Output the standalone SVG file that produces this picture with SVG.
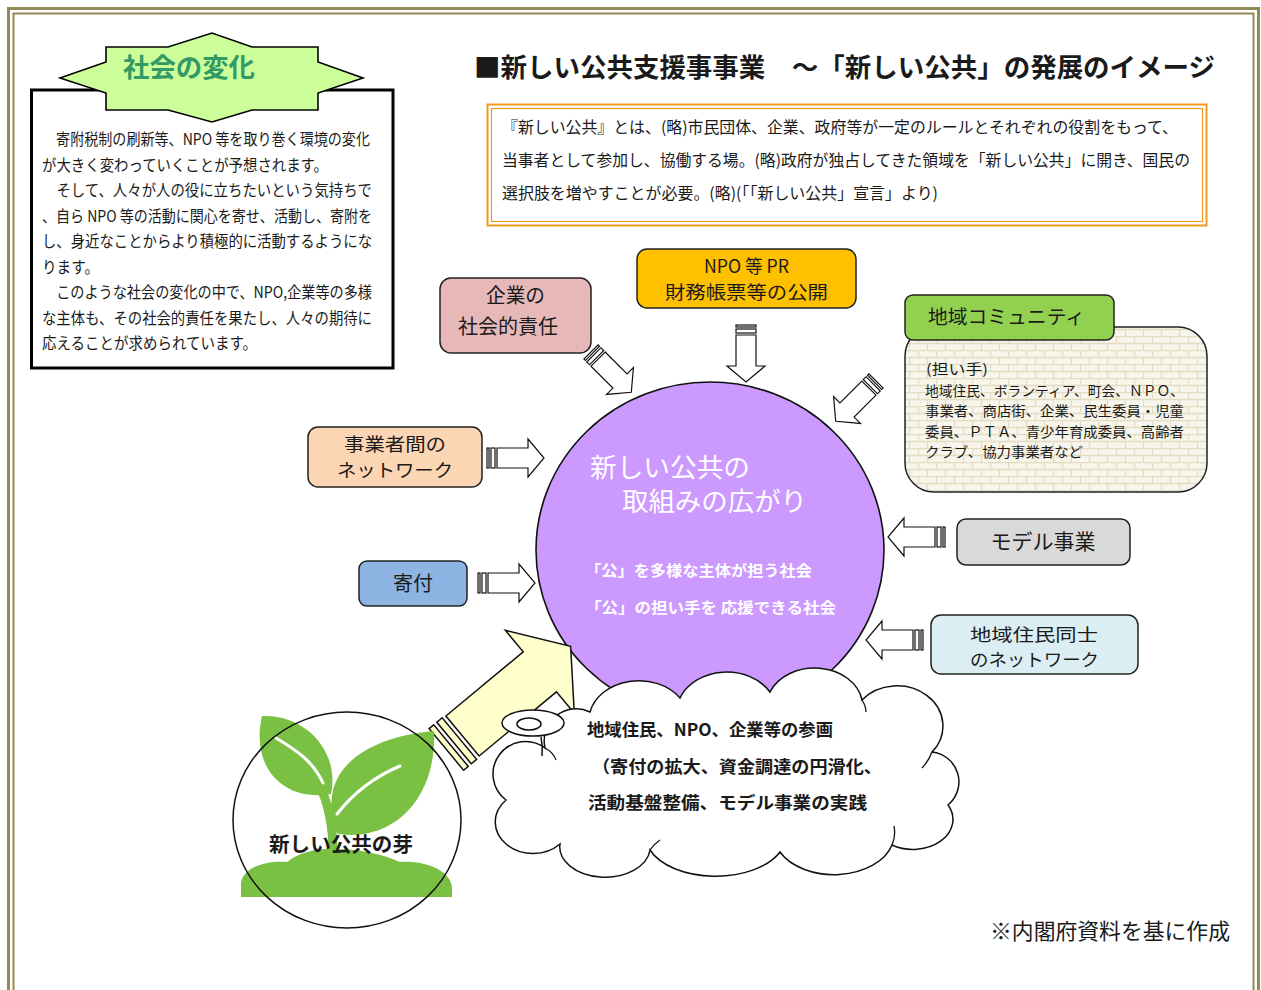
<svg xmlns="http://www.w3.org/2000/svg" xmlns:xlink="http://www.w3.org/1999/xlink" width="1261" height="990" viewBox="0 0 1261 990">
  <style>
    .jp { font-family: 'Noto Sans CJK JP', 'Noto Sans CJK SC', sans-serif; fill: #1a1a1a; }
    .b { font-weight: bold; }
    .box { stroke: #222; stroke-width: 1.5; }
    .arr { fill: #fff; stroke: #111; stroke-width: 1.2; stroke-linejoin: miter; }
    .leaf { fill: #7ac143; }
  </style>
  <defs>
    <!-- striped block arrow, pointing +x, origin at tail centre -->
    <g id="sarrow" class="arr">
      <rect x="0" y="-10" width="2" height="20"/>
      <rect x="4" y="-10" width="4" height="20"/>
      <path d="M10,-10 H41 V-19 L57,0 L41,19 V10 H10 Z"/>
    </g>
    <pattern id="brick" width="18" height="14" patternUnits="userSpaceOnUse">
      <rect width="18" height="14" fill="#f8f6ec"/>
      <path d="M0,0.5H18M0,7.5H18M0.5,0V7M9.5,7V14" stroke="#e2dcc3" stroke-width="1.3" fill="none"/>
    </pattern>
  </defs>

  <rect width="1261" height="990" fill="#fff"/>

  <!-- page frame -->
  <g id="frame" fill="none" stroke="#948a54">
    <path d="M8.5,990 V8.5 H1258.5 V990" stroke-width="3"/>
    <path d="M13.5,990 V13.5 H1253.5 V990" stroke-width="2"/>
  </g>

  <!-- social change panel -->
  <g id="change">
    <rect x="31.5" y="90" width="361.5" height="278" fill="#fff" stroke="#000" stroke-width="3"/>
    <polygon points="60,78 106,62 106,47 168,47 212,33 252,47 318,47 318,62 363,78 318,93 318,110 252,110 212,122 168,110 106,110 106,93" fill="#ccff99" stroke="#000" stroke-width="1.6"/>
    <text x="123" y="77" class="jp b" font-size="26" style="fill:#339966" textLength="132" lengthAdjust="spacingAndGlyphs">社会の変化</text>
    <text class="jp" font-size="16">
      <tspan x="42" y="145" textLength="328" lengthAdjust="spacingAndGlyphs">　寄附税制の刷新等、NPO 等を取り巻く環境の変化</tspan>
      <tspan x="42" y="170.5" textLength="286" lengthAdjust="spacingAndGlyphs">が大きく変わっていくことが予想されます。</tspan>
      <tspan x="42" y="196" textLength="330" lengthAdjust="spacingAndGlyphs">　そして、人々が人の役に立ちたいという気持ちで</tspan>
      <tspan x="42" y="221.5" textLength="330" lengthAdjust="spacingAndGlyphs">、自ら NPO 等の活動に関心を寄せ、活動し、寄附を</tspan>
      <tspan x="42" y="247" textLength="330" lengthAdjust="spacingAndGlyphs">し、身近なことからより積極的に活動するようにな</tspan>
      <tspan x="42" y="272.5" textLength="57" lengthAdjust="spacingAndGlyphs">ります。</tspan>
      <tspan x="42" y="298" textLength="330" lengthAdjust="spacingAndGlyphs">　このような社会の変化の中で、NPO,企業等の多様</tspan>
      <tspan x="42" y="323.5" textLength="330" lengthAdjust="spacingAndGlyphs">な主体も、その社会的責任を果たし、人々の期待に</tspan>
      <tspan x="42" y="349" textLength="215" lengthAdjust="spacingAndGlyphs">応えることが求められています。</tspan>
    </text>
  </g>

  <!-- title -->
  <text id="title" x="474" y="77" class="jp b" font-size="26" textLength="741" lengthAdjust="spacingAndGlyphs">■新しい公共支援事事業　～「新しい公共」の発展のイメージ</text>

  <!-- definition quote -->
  <g id="quote">
    <rect x="487.5" y="104.5" width="719" height="121" fill="#fff" stroke="#f39a1e" stroke-width="2"/>
    <rect x="491.5" y="108.5" width="711" height="113" fill="none" stroke="#f39a1e" stroke-width="1.2"/>
    <text class="jp" font-size="16">
      <tspan x="502" y="133" textLength="676" lengthAdjust="spacingAndGlyphs">『新しい公共』とは、(略)市民団体、企業、政府等が一定のルールとそれぞれの役割をもって、</tspan>
      <tspan x="502" y="166" textLength="688" lengthAdjust="spacingAndGlyphs">当事者として参加し、協働する場。(略)政府が独占してきた領域を「新しい公共」に開き、国民の</tspan>
      <tspan x="502" y="199" textLength="436" lengthAdjust="spacingAndGlyphs">選択肢を増やすことが必要。(略)(「「新しい公共」宣言」より)</tspan>
    </text>
  </g>

  <!-- central circle -->
  <g id="hub">
    <ellipse cx="710" cy="550" rx="174" ry="168" fill="#cc99ff" stroke="#111" stroke-width="1.6"/>
    <text class="jp" font-size="26" style="fill:#fff">
      <tspan x="590" y="477" textLength="160" lengthAdjust="spacingAndGlyphs">新しい公共の</tspan>
      <tspan x="622" y="511" textLength="185" lengthAdjust="spacingAndGlyphs">取組みの広がり</tspan>
    </text>
    <text class="jp b" font-size="15" style="fill:#fff">
      <tspan x="585" y="576" textLength="227" lengthAdjust="spacingAndGlyphs">「公」を多様な主体が担う社会</tspan>
      <tspan x="585" y="613" textLength="251" lengthAdjust="spacingAndGlyphs">「公」の担い手を 応援できる社会</tspan>
    </text>
  </g>

  <!-- contributing factors -->
  <g id="csr">
    <rect x="440" y="278" width="151" height="75" rx="11" fill="#e6b9b8" class="box"/>
    <text class="jp" font-size="20">
      <tspan x="486" y="303" textLength="59" lengthAdjust="spacingAndGlyphs">企業の</tspan>
      <tspan x="458" y="334" textLength="100" lengthAdjust="spacingAndGlyphs">社会的責任</tspan>
    </text>
  </g>
  <g id="disclosure">
    <rect x="637" y="249" width="219" height="59" rx="10" fill="#ffc000" class="box"/>
    <text class="jp" font-size="18">
      <tspan x="704" y="273" textLength="85" lengthAdjust="spacingAndGlyphs">NPO 等 PR</tspan>
      <tspan x="665" y="299" textLength="163" lengthAdjust="spacingAndGlyphs">財務帳票等の公開</tspan>
    </text>
  </g>
  <g id="community">
    <rect x="905" y="327" width="302" height="165" rx="29" fill="url(#brick)" class="box"/>
    <rect x="905" y="295" width="209" height="45" rx="8" fill="#92d050" class="box"/>
    <text x="928" y="324" class="jp" font-size="19.5" textLength="157" lengthAdjust="spacingAndGlyphs">地域コミュニティ</text>
    <text class="jp" font-size="14">
      <tspan x="926" y="374" textLength="62" lengthAdjust="spacingAndGlyphs">(担い手)</tspan>
      <tspan x="925" y="396" textLength="259" lengthAdjust="spacingAndGlyphs">地域住民、ボランティア、町会、ＮＰＯ、</tspan>
      <tspan x="925" y="416" textLength="259" lengthAdjust="spacingAndGlyphs">事業者、商店街、企業、民生委員・児童</tspan>
      <tspan x="925" y="437" textLength="259" lengthAdjust="spacingAndGlyphs">委員、ＰＴＡ、青少年育成委員、高齢者</tspan>
      <tspan x="925" y="457" textLength="158" lengthAdjust="spacingAndGlyphs">クラブ、協力事業者など</tspan>
    </text>
  </g>
  <g id="biz-network">
    <rect x="308" y="427" width="174" height="60" rx="10" fill="#fcd5b4" class="box"/>
    <text class="jp" font-size="18">
      <tspan x="344" y="451" textLength="102" lengthAdjust="spacingAndGlyphs">事業者間の</tspan>
      <tspan x="337" y="477" textLength="116" lengthAdjust="spacingAndGlyphs">ネットワーク</tspan>
    </text>
  </g>
  <g id="donation">
    <rect x="359" y="561" width="108" height="45" rx="8" fill="#8db4e2" class="box"/>
    <text x="413" y="591" class="jp" font-size="20" text-anchor="middle">寄付</text>
  </g>
  <g id="model">
    <rect x="957" y="519" width="173" height="46" rx="9" fill="#d9d9d9" class="box"/>
    <text x="1043" y="549" class="jp" font-size="21" text-anchor="middle">モデル事業</text>
  </g>
  <g id="residents">
    <rect x="931" y="615" width="207" height="59" rx="10" fill="#dbeef4" class="box"/>
    <text class="jp" font-size="17.5">
      <tspan x="970" y="640.5" textLength="128" lengthAdjust="spacingAndGlyphs">地域住民同士</tspan>
      <tspan x="970" y="666" textLength="129" lengthAdjust="spacingAndGlyphs">のネットワーク</tspan>
    </text>
  </g>

  <!-- connectors -->
  <g id="connectors">
    <use xlink:href="#sarrow" transform="translate(591,352) rotate(45)"/>
    <use xlink:href="#sarrow" transform="translate(746,325) rotate(90)"/>
    <use xlink:href="#sarrow" transform="translate(876,381) rotate(135)"/>
    <use xlink:href="#sarrow" transform="translate(487,458)"/>
    <use xlink:href="#sarrow" transform="translate(478,583)"/>
    <use xlink:href="#sarrow" transform="translate(945,537) rotate(180)"/>
    <use xlink:href="#sarrow" transform="translate(923,640) rotate(180)"/>
    <!-- large arrow rising from the sprout -->
    <g transform="translate(462.5,736) rotate(-39.7)" fill="#ffffcc" stroke="#111" stroke-width="1.5">
      <rect x="-21" y="-27" width="6" height="54"/>
      <rect x="-11" y="-27" width="7" height="54"/>
      <path d="M0,-26 H100.5 V-54 L140.5,0 L100.5,54 V26 H0 Z"/>
    </g>
  </g>

  <!-- participation cloud -->
  <g id="participation">
    <path d="M506,800 A28,28 0 0 1 545,748 A32,32 0 0 1 590,712 A50,40 0 0 1 680,698 A50,40 0 0 1 770,692 A48,38 0 0 1 862,700 A40,35 0 0 1 932,752 A30,30 0 0 1 948,805 A40,30 0 0 1 892,845 A60,40 0 0 1 780,852 A70,40 0 0 1 650,850 A45,30 0 0 1 560,844 A30,25 0 0 1 506,800 Z" fill="#fff" stroke="#111" stroke-width="1.5"/>
    <path d="M545,748 Q553,752 556,760 M862,700 Q866,706 866,712 M932,752 Q928,762 922,768 M892,845 Q896,836 894,826 M650,850 Q654,844 660,840" fill="none" stroke="#111" stroke-width="1.3"/>
    <ellipse cx="533" cy="723" rx="31" ry="13" fill="#fff" stroke="#111" stroke-width="1.5"/>
    <ellipse cx="529" cy="724" rx="12" ry="6" fill="none" stroke="#111" stroke-width="1.5"/>
    <path d="M541,737 Q543,747 542,756" fill="none" stroke="#111" stroke-width="1.5"/>
    <text class="jp b" font-size="17">
      <tspan x="587" y="736" textLength="246" lengthAdjust="spacingAndGlyphs">地域住民、NPO、企業等の参画</tspan>
      <tspan x="592" y="773" textLength="290" lengthAdjust="spacingAndGlyphs">（寄付の拡大、資金調達の円滑化、</tspan>
      <tspan x="588" y="809" textLength="279" lengthAdjust="spacingAndGlyphs">活動基盤整備、モデル事業の実践</tspan>
    </text>
  </g>

  <!-- sprout -->
  <g id="sprout">
    <path class="leaf" d="M241,897 L241,883 C243,868 265,860 287,862 C300,852 318,848 337,849 C360,849 385,855 400,862 C420,860 450,868 452,887 L452,897 Z"/>
    <path d="M333,852 C333,830 330,808 320,786" fill="none" stroke="#7ac143" stroke-width="9" stroke-linecap="round"/>
    <path d="M331,830 C333,818 337,810 344,802" fill="none" stroke="#7ac143" stroke-width="7" stroke-linecap="round"/>
    <path class="leaf" d="M262,716 C306,714 340,752 331,794 C284,802 250,768 262,716 Z"/>
    <path class="leaf" d="M434,731 C398,734 344,748 333,790 C329,810 332,826 338,834 C392,842 437,800 434,731 Z"/>
    <path d="M276,738 C296,750 313,761 323,783" fill="none" stroke="#fff" stroke-width="3" stroke-linecap="round"/>
    <path d="M400,766 Q362,782 337,814" fill="none" stroke="#fff" stroke-width="3" stroke-linecap="round"/>
    <ellipse cx="347" cy="820" rx="114" ry="108" fill="none" stroke="#111" stroke-width="1.5"/>
    <text x="269" y="852" class="jp b" font-size="20" textLength="144" lengthAdjust="spacingAndGlyphs">新しい公共の芽</text>
  </g>

  <!-- source note -->
  <text id="source" x="990" y="939" class="jp" font-size="22" textLength="240" lengthAdjust="spacingAndGlyphs">※内閣府資料を基に作成</text>
</svg>
